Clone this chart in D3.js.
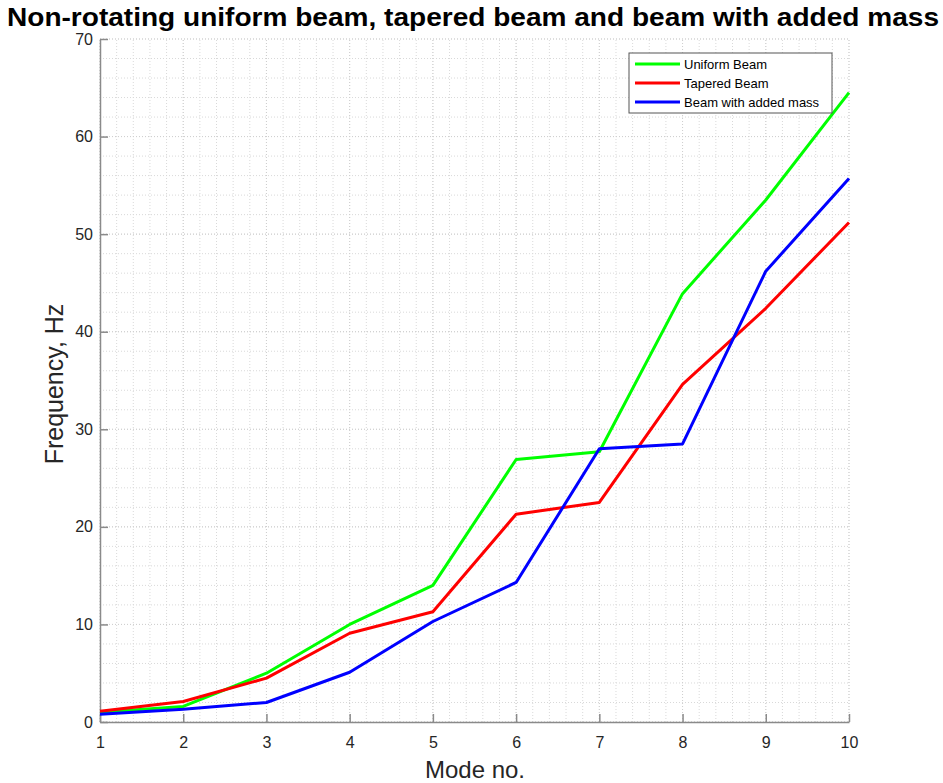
<!DOCTYPE html>
<html>
<head>
<meta charset="utf-8">
<script src="https://cdn.jsdelivr.net/npm/d3@7"></script>
<style>
  body { margin: 0; background: #fff; }
  svg { display: block; font-family: "Liberation Sans", Arial, sans-serif; }
</style>
</head>
<body>
<script>
// mode numbers and frequencies (Hz)
var modes = [1, 2, 3, 4, 5, 6, 7, 8, 9, 10];
var uniformBeam = [1.0, 1.6, 5.0, 10.0, 14.0, 26.9, 27.7, 43.9, 53.5, 64.5];
var taperedBeam = [1.1, 2.1, 4.5, 9.1, 11.3, 21.3, 22.5, 34.6, 42.4, 51.2];
var addedMass   = [0.8, 1.3, 2.0, 5.1, 10.3, 14.3, 28.0, 28.5, 46.2, 55.7];
var seriesNames = ['Uniform Beam', 'Tapered Beam', 'Beam with added mass'];
var seriesColors = ['#00ff00', '#ff0000', '#0000ff'];
var yTicks = [0, 10, 20, 30, 40, 50, 60, 70];

var width = 943, height = 783;
var margin = { left: 100, right: 94, top: 39, bottom: 61 };

var svg = d3.select('body').append('svg')
    .attr('width', width)
    .attr('height', height);

var x = d3.scaleLinear().domain([1, 10]).range([margin.left, width - margin.right]);
var y = d3.scaleLinear().domain([0, 70]).range([height - margin.bottom, margin.top]);

// minor grid
var minorX = d3.range(1, 10.001, 0.2);
var minorY = d3.range(0, 70.001, 2);
svg.append('g').selectAll('line')
    .data(minorX).enter().append('line')
    .attr('x1', function(d) { return x(d); }).attr('x2', function(d) { return x(d); })
    .attr('y1', y(0)).attr('y2', y(70))
    .attr('stroke', '#d9d9d9').attr('stroke-width', 1).attr('stroke-dasharray', '1,2');
svg.append('g').selectAll('line')
    .data(minorY).enter().append('line')
    .attr('x1', x(1)).attr('x2', x(10))
    .attr('y1', function(d) { return y(d); }).attr('y2', function(d) { return y(d); })
    .attr('stroke', '#d9d9d9').attr('stroke-width', 1).attr('stroke-dasharray', '1,2');

// major grid
svg.append('g').selectAll('line')
    .data(modes).enter().append('line')
    .attr('x1', function(d) { return x(d); }).attr('x2', function(d) { return x(d); })
    .attr('y1', y(0)).attr('y2', y(70))
    .attr('stroke', '#cfcfcf').attr('stroke-width', 1).attr('stroke-dasharray', '1,2');
svg.append('g').selectAll('line')
    .data(yTicks).enter().append('line')
    .attr('x1', x(1)).attr('x2', x(10))
    .attr('y1', function(d) { return y(d); }).attr('y2', function(d) { return y(d); })
    .attr('stroke', '#cfcfcf').attr('stroke-width', 1).attr('stroke-dasharray', '1,2');

// axes, ticks pointing inward
var xAxis = d3.axisBottom(x).tickValues(modes).tickSizeInner(-8).tickSizeOuter(0).tickPadding(15);
var yAxis = d3.axisLeft(y).tickValues(yTicks).tickSizeInner(-8).tickSizeOuter(0).tickPadding(7);

var gx = svg.append('g').attr('transform', 'translate(0,' + y(0) + ')').call(xAxis);
var gy = svg.append('g').attr('transform', 'translate(' + x(1) + ',0)').call(yAxis);
[gx, gy].forEach(function(g) {
    g.select('.domain').attr('stroke', '#8a8a8a').attr('stroke-width', 1.5);
    g.selectAll('.tick line').attr('stroke', '#8a8a8a').attr('stroke-width', 1.5);
    g.selectAll('.tick text').attr('fill', '#262626').style('font-size', '16px')
        .style('font-family', '"Liberation Sans", Arial, sans-serif');
});

// lines
var allSeries = [uniformBeam, taperedBeam, addedMass];
var line = d3.line()
    .x(function(d, i) { return x(modes[i]); })
    .y(function(d) { return y(d); });

svg.append('g').selectAll('path')
    .data(allSeries).enter().append('path')
    .attr('d', line)
    .attr('fill', 'none')
    .attr('stroke', function(d, i) { return seriesColors[i]; })
    .attr('stroke-width', 3)
    .attr('stroke-linejoin', 'round');

// title
svg.append('text')
    .attr('x', 473).attr('y', 26)
    .attr('text-anchor', 'middle')
    .attr('textLength', 932).attr('lengthAdjust', 'spacingAndGlyphs')
    .style('font-size', '26px').style('font-weight', 'bold')
    .text('Non-rotating uniform beam, tapered beam and beam with added mass');

// axis labels
svg.append('text')
    .attr('x', 475).attr('y', 778)
    .attr('text-anchor', 'middle')
    .attr('fill', '#262626')
    .style('font-size', '24px')
    .text('Mode no.');

svg.append('text')
    .attr('transform', 'translate(63,' + 384 + ') rotate(-90)')
    .attr('text-anchor', 'middle')
    .attr('fill', '#262626')
    .style('font-size', '25px')
    .text('Frequency, Hz');

// legend
var legend = svg.append('g').attr('transform', 'translate(629,53)');
legend.append('rect')
    .attr('width', 203).attr('height', 60)
    .attr('fill', '#fff').attr('stroke', '#555').attr('stroke-width', 1);
var items = legend.selectAll('g.item')
    .data(seriesNames).enter().append('g')
    .attr('transform', function(d, i) { return 'translate(0,' + (11 + i * 19) + ')'; });
items.append('line')
    .attr('x1', 6).attr('x2', 51)
    .attr('stroke', function(d, i) { return seriesColors[i]; })
    .attr('stroke-width', 3);
items.append('text')
    .attr('x', 55).attr('y', 4.5)
    .style('font-size', '13px')
    .attr('fill', '#000')
    .text(function(d) { return d; });
</script>
</body>
</html>
